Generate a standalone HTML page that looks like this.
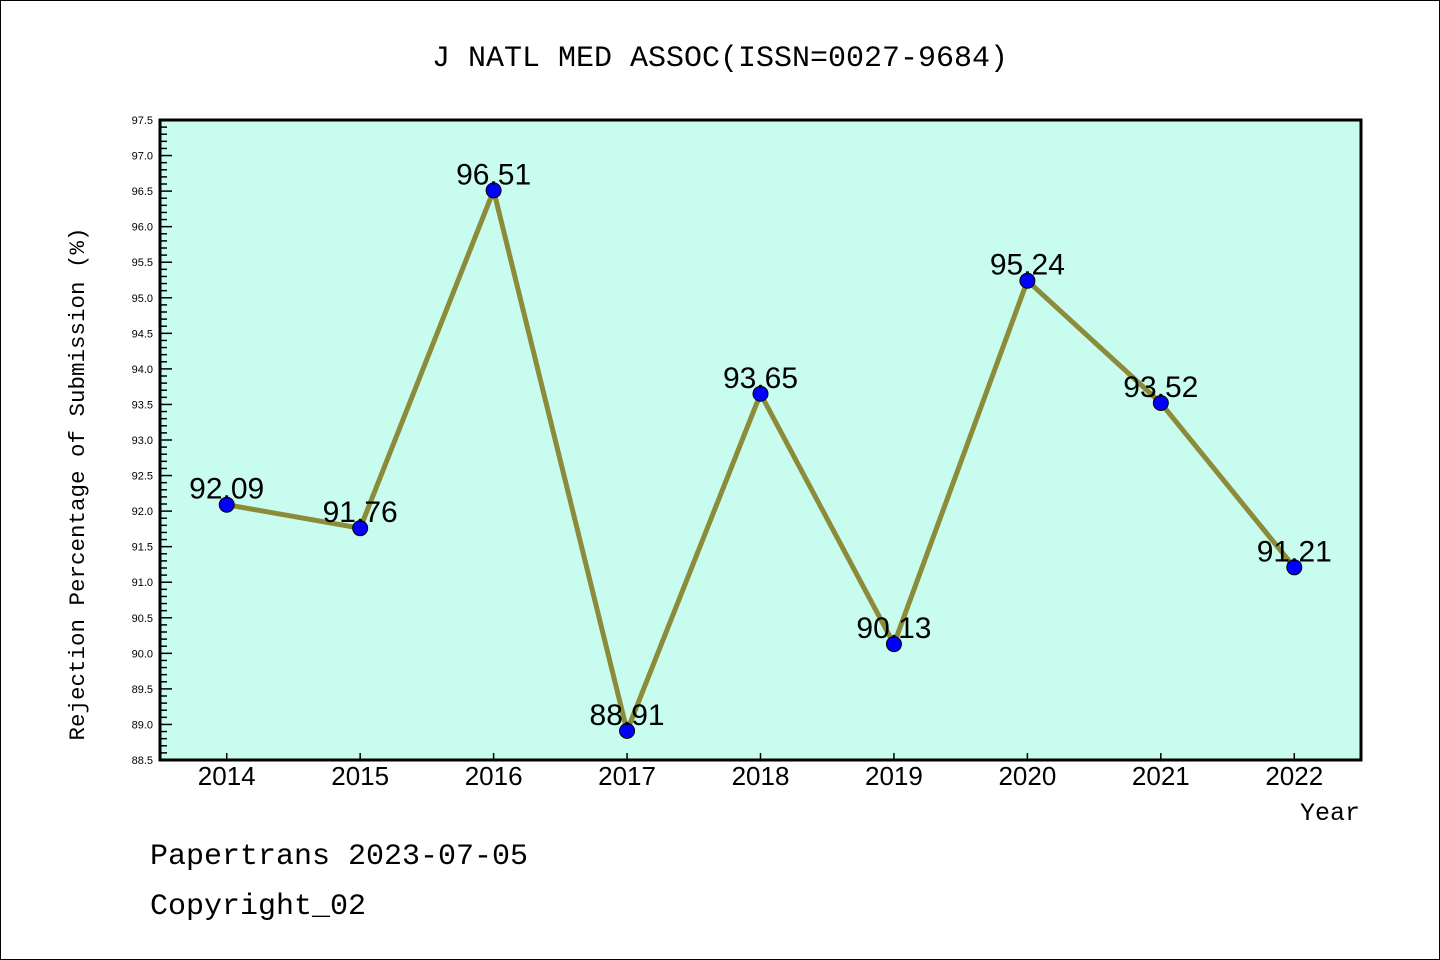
<!DOCTYPE html>
<html><head><meta charset="utf-8"><style>
html,body{margin:0;padding:0;background:#fff}
svg{display:block;font-family:"Liberation Mono","DejaVu Sans Mono",monospace}
</style></head><body>
<svg id="chart" width="1440" height="960" xmlns="http://www.w3.org/2000/svg">
<rect x="0.5" y="0.5" width="1439" height="959" fill="#fff" stroke="#000"/>
<text x="720" y="66" text-anchor="middle" font-size="30">J NATL MED ASSOC(ISSN=0027-9684)</text>
<rect x="160" y="120" width="1201" height="640" fill="#c8fcee"/>
<g id="yaxis"></g>
<g id="xaxis"></g>
<g id="series"></g>
<rect x="160" y="120" width="1201" height="640" fill="none" stroke="#000" stroke-width="3"/>
<text x="84" y="484" transform="rotate(-90 84 484)" text-anchor="middle" font-size="22.5">Rejection Percentage of Submission (%)</text>
<text x="1360" y="820" text-anchor="end" font-size="25">Year</text>
<text x="150" y="864" font-size="30">Papertrans 2023-07-05</text>
<text x="150" y="914" font-size="30">Copyright_02</text>
</svg>
<script>
const years=[2014,2015,2016,2017,2018,2019,2020,2021,2022];
const values=[92.09,91.76,96.51,88.91,93.65,90.13,95.24,93.52,91.21];
const yTickLabels=["88.5","89.0","89.5","90.0","90.5","91.0","91.5","92.0","92.5","93.0","93.5","94.0","94.5","95.0","95.5","96.0","96.5","97.0","97.5"];
const NS="http://www.w3.org/2000/svg";
const X0=160,X1=1361,Y0=120,Y1=760,YMIN=88.5,YMAX=97.5;
const xs=i=>X0+(i+0.5)*(X1-X0)/years.length;
const ys=v=>Y1-(v-YMIN)/(YMAX-YMIN)*(Y1-Y0);
function mk(tag,attrs,parent){const e=document.createElementNS(NS,tag);for(const k in attrs)e.setAttribute(k,attrs[k]);parent.appendChild(e);return e;}
const ya=document.getElementById('yaxis'),xa=document.getElementById('xaxis'),sg=document.getElementById('series');
for(let k=0;k<=90;k++){const v=YMIN+k*0.1;const y=ys(v);const major=k%5===0;
 const t=mk('line',{x1:X0,x2:X0+(major?12:7),y1:y,y2:y,stroke:'#000','stroke-width':1.5},ya);
 
 }
yTickLabels.forEach(s=>{const t=mk('text',{x:153,y:ys(parseFloat(s))+4,'text-anchor':'end','font-size':11,'font-family':'Liberation Sans, sans-serif'},ya);t.textContent=s;
 
 });
years.forEach((yr,i)=>{const x=xs(i);
 const t=mk('line',{x1:x,x2:x,y1:Y1,y2:Y1-7,stroke:'#000','stroke-width':1.5},xa);
 
 
 const l=mk('text',{x:x,y:785,'text-anchor':'middle','font-size':26,'font-family':'Liberation Sans, sans-serif'},xa);l.textContent=yr;
 
 });
const pl=mk('polyline',{points:values.map((v,i)=>xs(i)+','+ys(v)).join(' '),fill:'none',stroke:'#8b8b3a','stroke-width':5,'stroke-linejoin':'round'},sg);


values.forEach((v,i)=>{const c=mk('circle',{cx:xs(i),cy:ys(v),r:7.5,fill:'#0000ff',stroke:'#000','stroke-width':1},sg);
 
 
 const t=mk('text',{x:xs(i),y:ys(v)-6,'text-anchor':'middle','font-size':30,'font-family':'Liberation Sans, sans-serif'},sg);t.textContent=v.toFixed(2);
 
 });
</script>
</body></html>
